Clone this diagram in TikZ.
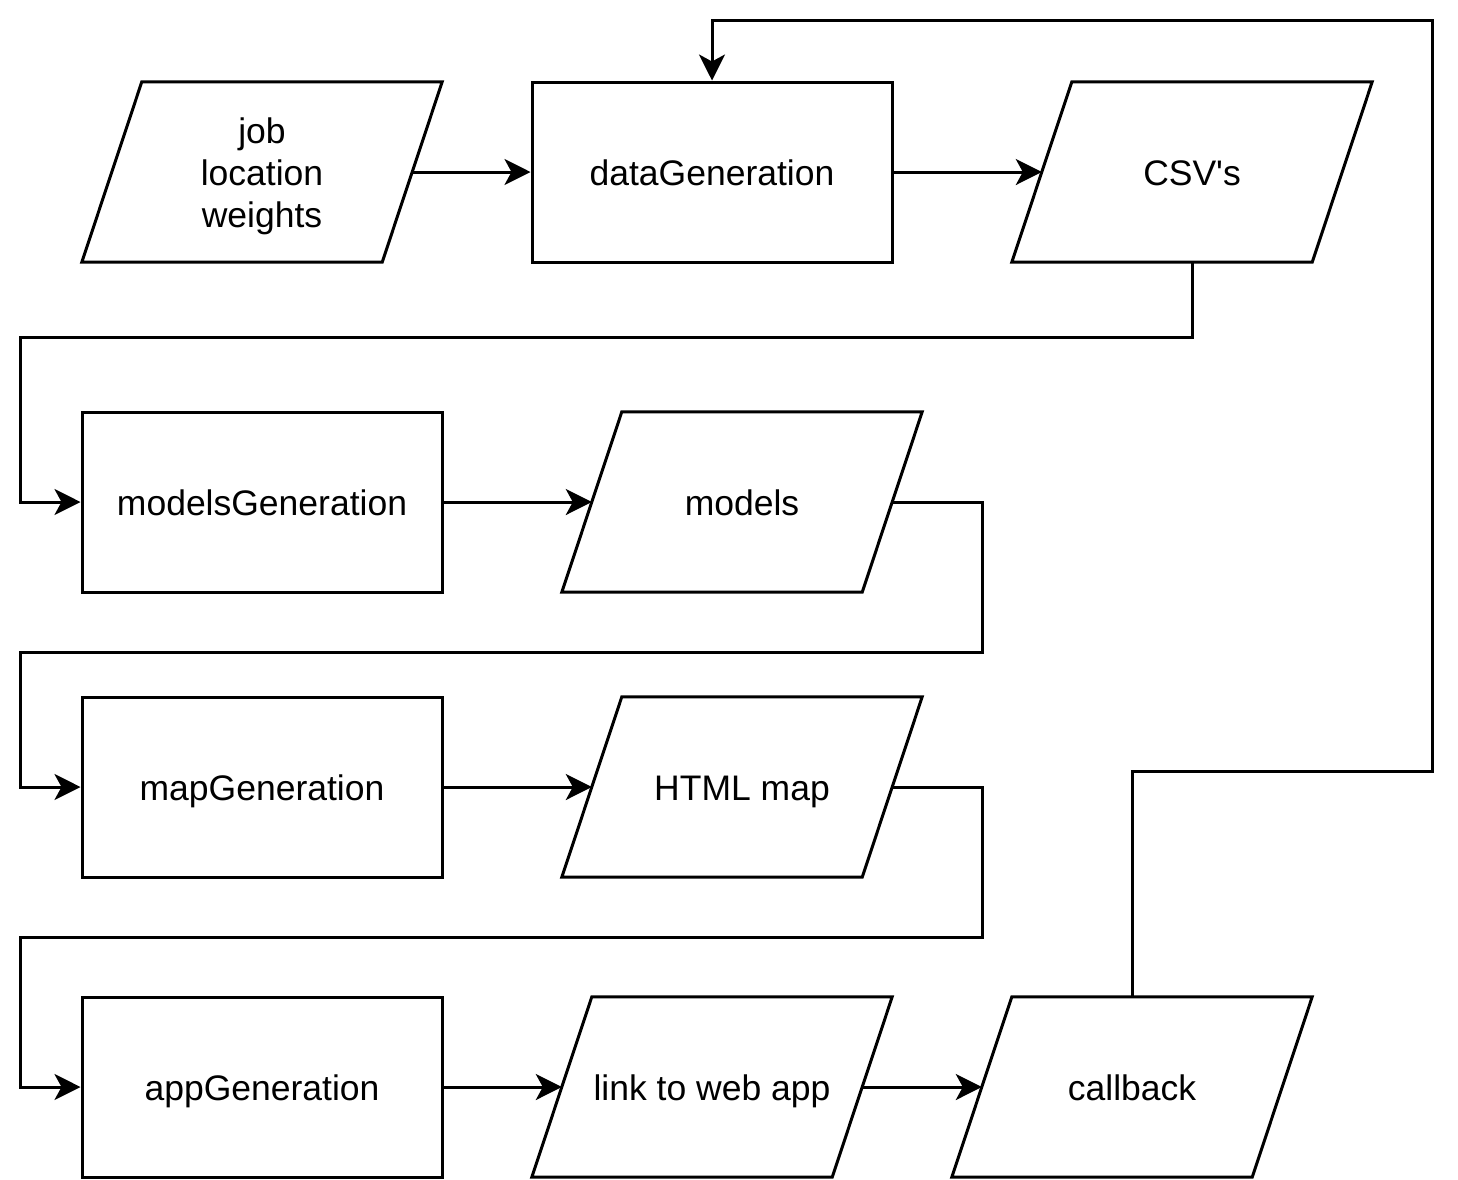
\documentclass[tikz,border=0pt]{standalone}
\usepackage{fontspec}
\setmainfont{Liberation Sans}
\usetikzlibrary{arrows.meta}
\tikzset{
  line/.style={line width=3pt, line join=miter},
  conn/.style={line, -{Stealth[length=26pt, width=26pt, inset=7pt]}},
  txt/.style={font=\fontsize{35.5pt}{42pt}\selectfont, text height=30pt, text depth=3pt},
  procbox/.style={draw, line, minimum width=360pt, minimum height=180pt, inner sep=0pt, align=center, txt},
  iobox/.style={minimum width=300pt, minimum height=180pt, inner sep=0pt, align=center, txt},
}
\newcommand{\iodraw}[1]{\draw[line] ([xshift=30pt]#1.north west) -- ([xshift=30pt]#1.north east) -- ([xshift=-30pt]#1.south east) -- ([xshift=-30pt]#1.south west) -- cycle;}
\begin{document}
\begin{tikzpicture}[x=1pt, y=-1pt]
\useasboundingbox (0,0) rectangle (1458,1179);
\node[iobox] (inp) at (262,172) {};
\node[align=center, inner sep=0pt, font=\fontsize{35.5pt}{42pt}\selectfont] (inptext) at (262,176) {job\\location\\weights};
\node[procbox] (data) at (712,172) {dataGeneration};
\node[iobox] (csv) at (1192,172) {CSV\textquotesingle s};
\node[procbox] (mg) at (262,502) {modelsGeneration};
\node[iobox] (models) at (742,502) {models};
\node[procbox] (map) at (262,787) {mapGeneration};
\node[iobox] (html) at (742,787) {HTML map};
\node[procbox] (app) at (262,1087) {appGeneration};
\node[iobox] (link) at (712,1087) {link to web app};
\node[iobox] (cb) at (1132,1087) {callback};
\iodraw{inp}
\iodraw{csv}
\iodraw{models}
\iodraw{html}
\iodraw{link}
\iodraw{cb}
\draw[conn] (inp.east) -- (data.west);
\draw[conn] (data.east) -- (csv.west);
\draw[conn] (csv.south) -- ++(0,75) -| ([xshift=-60pt]mg.west) -- (mg.west);
\draw[conn] (mg.east) -- (models.west);
\draw[conn] (models.east) -- ++(90,0) -- ++(0,150) -| ([xshift=-60pt]map.west) -- (map.west);
\draw[conn] (map.east) -- (html.west);
\draw[conn] (html.east) -- ++(90,0) -- ++(0,150) -| ([xshift=-60pt]app.west) -- (app.west);
\draw[conn] (app.east) -- (link.west);
\draw[conn] (link.east) -- (cb.west);
\draw[conn] (cb.north) -- ++(0,-225) -- ++(300,0) |- ([yshift=60pt]data.north) -- (data.north);
\end{tikzpicture}
\end{document}
